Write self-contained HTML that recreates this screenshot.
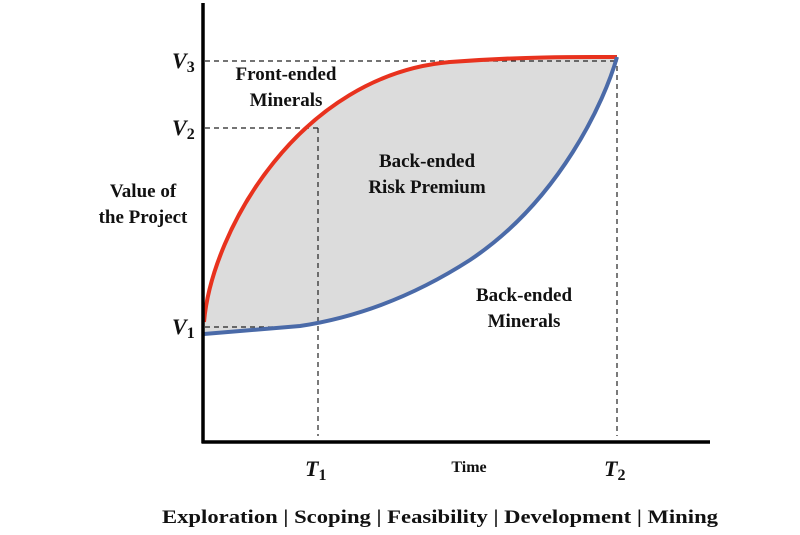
<!DOCTYPE html>
<html><head><style>
body{margin:0;background:#fff;}
svg text{font-family:"Liberation Serif",serif;font-weight:bold;fill:#111;}
</style></head><body>
<svg width="800" height="530" viewBox="0 0 800 530" xmlns="http://www.w3.org/2000/svg">
<path d="M204,322 C212,230 300,75 450,62 C530,56 590,57 617,57 C605,100 560,200 470,260 C400,305 340,320 300,326 L204,334 Z" fill="#dcdcdc"/>
<g stroke="#222" stroke-width="1.2" stroke-dasharray="5,4" fill="none">
<line x1="205" y1="61" x2="617" y2="61"/>
<line x1="205" y1="128" x2="318" y2="128"/>
<line x1="205" y1="327" x2="290" y2="327"/>
<line x1="318" y1="128" x2="318" y2="436"/>
<line x1="617" y1="57" x2="617" y2="436"/>
</g>
<path d="M204,322 C212,230 300,75 450,62 C530,56 590,57 617,57" fill="none" stroke="#e8321e" stroke-width="4"/>
<path d="M204,334 L300,326 C340,320 400,305 470,260 C560,200 605,100 617,57" fill="none" stroke="#4a6aa8" stroke-width="4"/>
<line x1="203" y1="3" x2="203" y2="443" stroke="#000" stroke-width="3.5"/>
<line x1="201.5" y1="442" x2="710" y2="442" stroke="#000" stroke-width="3.5"/>
<text x="172" y="68" font-size="22" font-style="italic">V<tspan font-size="16" dy="4" font-style="normal">3</tspan></text>
<text x="172" y="135" font-size="22" font-style="italic">V<tspan font-size="16" dy="4" font-style="normal">2</tspan></text>
<text x="172" y="334" font-size="22" font-style="italic">V<tspan font-size="16" dy="4" font-style="normal">1</tspan></text>
<text x="305" y="476" font-size="22" font-style="italic">T<tspan font-size="16" dy="4" font-style="normal">1</tspan></text>
<text x="604" y="476" font-size="22" font-style="italic">T<tspan font-size="16" dy="4" font-style="normal">2</tspan></text>
<text x="469" y="472" font-size="16" text-anchor="middle">Time</text>
<text x="286" y="80" font-size="19" text-anchor="middle">Front-ended</text>
<text x="286" y="106" font-size="19" text-anchor="middle">Minerals</text>
<text x="427" y="167" font-size="19" text-anchor="middle">Back-ended</text>
<text x="427" y="193" font-size="19" text-anchor="middle">Risk Premium</text>
<text x="524" y="301" font-size="19" text-anchor="middle">Back-ended</text>
<text x="524" y="327" font-size="19" text-anchor="middle">Minerals</text>
<text x="143" y="197" font-size="19" text-anchor="middle">Value of</text>
<text x="143" y="223" font-size="19" text-anchor="middle">the Project</text>
<text x="162" y="523" font-size="19" textLength="556" lengthAdjust="spacingAndGlyphs">Exploration | Scoping | Feasibility | Development | Mining</text>
</svg>
</body></html>
